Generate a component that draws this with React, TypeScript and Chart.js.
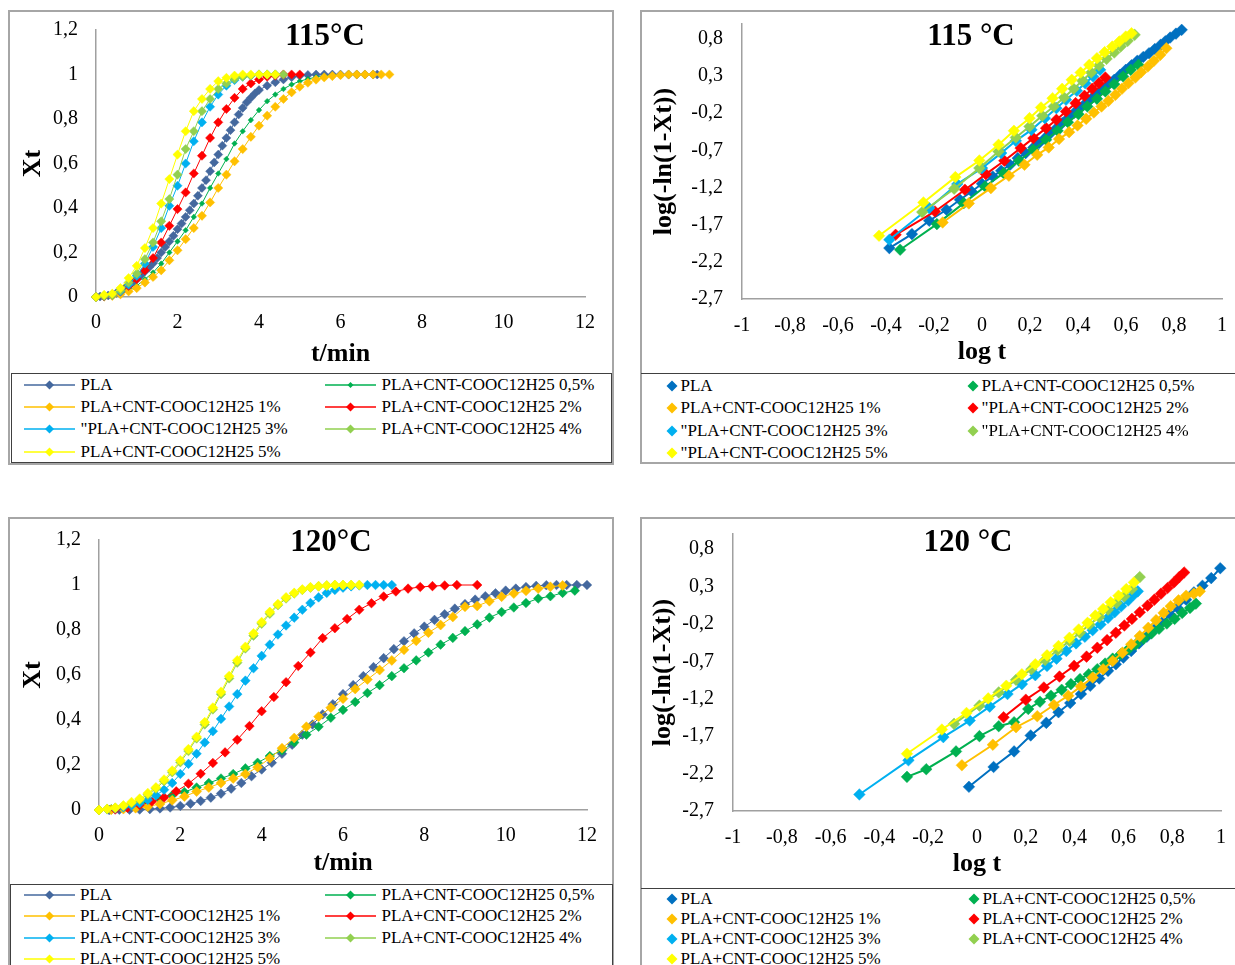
import React, { useEffect, useRef } from "react";
import { Chart, registerables } from "chart.js";
Chart.register(...registerables);

const FONT = "'Liberation Serif', 'Times New Roman', Times, serif";
const AXIS_COLOR = "#A0A0A0";

const LEFT_COLORS = ["#44689E", "#00B050", "#FFC000", "#FF0000", "#00B0F0", "#92D050", "#FFFF00"];
const RIGHT_COLORS = ["#0070C0", "#00B050", "#FFC000", "#FF0000", "#00B0F0", "#92D050", "#FFFF00"];

const LEGEND_115_LEFT = ["PLA", "PLA+CNT-COOC12H25 0,5%", "PLA+CNT-COOC12H25 1%", "PLA+CNT-COOC12H25 2%", "\"PLA+CNT-COOC12H25 3%", "PLA+CNT-COOC12H25 4%", "PLA+CNT-COOC12H25 5%"];
const LEGEND_115_RIGHT = ["PLA", "PLA+CNT-COOC12H25 0,5%", "PLA+CNT-COOC12H25 1%", "\"PLA+CNT-COOC12H25 2%", "\"PLA+CNT-COOC12H25 3%", "\"PLA+CNT-COOC12H25 4%", "\"PLA+CNT-COOC12H25 5%"];
const LEGEND_120 = ["PLA", "PLA+CNT-COOC12H25 0,5%", "PLA+CNT-COOC12H25 1%", "PLA+CNT-COOC12H25 2%", "PLA+CNT-COOC12H25 3%", "PLA+CNT-COOC12H25 4%", "PLA+CNT-COOC12H25 5%"];

const XT_TICKS = [0, 0.2, 0.4, 0.6, 0.8, 1, 1.2];
const TIME_TICKS = [0, 2, 4, 6, 8, 10, 12];
const LOGT_TICKS = [-1, -0.8, -0.6, -0.4, -0.2, 0, 0.2, 0.4, 0.6, 0.8, 1];
const AVRAMI_TICKS = [-2.7, -2.2, -1.7, -1.2, -0.7, -0.2, 0.3, 0.8];

// ---------- 115 °C : Xt vs t ----------
const T115_PLA = [0, 0.1, 0.2, 0.3, 0.4, 0.5, 0.6, 0.7, 0.8, 0.9, 1.0, 1.1, 1.2, 1.3, 1.4, 1.5, 1.6, 1.7, 1.8, 1.9, 2.0, 2.1, 2.2, 2.3, 2.4, 2.5, 2.6, 2.7, 2.8, 2.9, 3.0, 3.1, 3.2, 3.3, 3.4, 3.5, 3.6, 3.7, 3.8, 3.9, 4.0, 4.2, 4.4, 4.6, 4.8, 5.0, 5.2, 5.4, 5.6, 5.8, 6.0, 6.2, 6.4, 6.6, 6.8, 6.9];
const X115_PLA = [0, 0.002, 0.004, 0.007, 0.012, 0.018, 0.027, 0.038, 0.05, 0.065, 0.08, 0.097, 0.115, 0.133, 0.152, 0.175, 0.2, 0.225, 0.25, 0.275, 0.305, 0.33, 0.36, 0.39, 0.42, 0.455, 0.49, 0.525, 0.565, 0.605, 0.64, 0.68, 0.715, 0.75, 0.785, 0.82, 0.85, 0.875, 0.895, 0.915, 0.93, 0.95, 0.965, 0.978, 0.988, 0.994, 0.998, 1, 1, 1, 1, 1, 1, 1, 1, 1];
const T115 = [0, 0.2, 0.4, 0.6, 0.8, 1.0, 1.2, 1.4, 1.6, 1.8, 2.0, 2.2, 2.4, 2.6, 2.8, 3.0, 3.2, 3.4, 3.6, 3.8, 4.0, 4.2, 4.4, 4.6, 4.8, 5.0, 5.2, 5.4, 5.6, 5.8, 6.0, 6.2, 6.4, 6.6, 6.8, 7.0, 7.2];
const X115_05 = [0, 0.003, 0.006, 0.015, 0.03, 0.05, 0.08, 0.11, 0.15, 0.2, 0.25, 0.3, 0.36, 0.42, 0.49, 0.555, 0.62, 0.69, 0.745, 0.795, 0.84, 0.88, 0.91, 0.935, 0.955, 0.97, 0.98, 0.988, 0.993, 0.997, 1, 1, 1, 1, 1];
const X115_1 = [0, 0.002, 0.005, 0.012, 0.025, 0.04, 0.065, 0.09, 0.12, 0.165, 0.21, 0.26, 0.31, 0.365, 0.425, 0.49, 0.55, 0.61, 0.665, 0.72, 0.77, 0.815, 0.855, 0.89, 0.92, 0.945, 0.963, 0.977, 0.987, 0.993, 0.997, 1, 1, 1, 1, 1, 1];
const X115_2 = [0, 0.003, 0.01, 0.025, 0.05, 0.08, 0.12, 0.175, 0.245, 0.32, 0.395, 0.47, 0.555, 0.635, 0.715, 0.785, 0.845, 0.895, 0.935, 0.96, 0.978, 0.99, 0.995, 1, 1, 1];
const X115_3 = [0, 0.005, 0.01, 0.025, 0.055, 0.095, 0.15, 0.225, 0.31, 0.41, 0.5, 0.6, 0.7, 0.785, 0.855, 0.91, 0.95, 0.975, 0.99, 0.995, 1, 1, 1];
const X115_4 = [0, 0.005, 0.01, 0.03, 0.065, 0.105, 0.17, 0.245, 0.34, 0.44, 0.55, 0.665, 0.745, 0.835, 0.89, 0.935, 0.96, 0.98, 0.99, 0.995, 1, 1, 1, 1];
const X115_5 = [0, 0.01, 0.015, 0.04, 0.085, 0.14, 0.22, 0.31, 0.42, 0.53, 0.64, 0.745, 0.835, 0.89, 0.935, 0.97, 0.985, 0.995, 1, 1, 1, 1, 1];

// ---------- 120 °C : Xt vs t ----------
const T120_PLA = [0, 0.25, 0.5, 0.75, 1, 1.25, 1.5, 1.75, 2, 2.25, 2.5, 2.75, 3, 3.25, 3.5, 3.75, 4, 4.25, 4.5, 4.75, 5, 5.25, 5.5, 5.75, 6, 6.25, 6.5, 6.75, 7, 7.25, 7.5, 7.75, 8, 8.25, 8.5, 8.75, 9, 9.25, 9.5, 9.75, 10, 10.25, 10.5, 10.75, 11, 11.25, 11.5, 11.75, 12];
const X120_PLA = [0, 0, 0.001, 0.001, 0.002, 0.004, 0.007, 0.011, 0.018, 0.028, 0.04, 0.055, 0.073, 0.095, 0.12, 0.15, 0.18, 0.21, 0.25, 0.29, 0.335, 0.38, 0.425, 0.47, 0.515, 0.555, 0.595, 0.635, 0.675, 0.715, 0.75, 0.785, 0.815, 0.845, 0.87, 0.895, 0.915, 0.935, 0.95, 0.963, 0.975, 0.984, 0.991, 0.996, 0.999, 1, 1, 1, 1];
const T120_03 = [0, 0.3, 0.6, 0.9, 1.2, 1.5, 1.8, 2.1, 2.4, 2.7, 3.0, 3.3, 3.6, 3.9, 4.2, 4.5, 4.8, 5.1, 5.4, 5.7, 6.0, 6.3, 6.6, 6.9, 7.2, 7.5, 7.8, 8.1, 8.4, 8.7, 9.0, 9.3, 9.6, 9.9, 10.2, 10.5, 10.8, 11.1, 11.4, 11.7];
const X120_05 = [0, 0.003, 0.01, 0.02, 0.032, 0.048, 0.065, 0.08, 0.1, 0.12, 0.14, 0.16, 0.185, 0.21, 0.24, 0.265, 0.3, 0.335, 0.37, 0.41, 0.445, 0.48, 0.52, 0.555, 0.595, 0.63, 0.665, 0.7, 0.735, 0.765, 0.795, 0.825, 0.855, 0.88, 0.9, 0.92, 0.94, 0.95, 0.965, 0.975];
const X120_1 = [0, 0.001, 0.004, 0.008, 0.015, 0.027, 0.043, 0.06, 0.082, 0.1, 0.12, 0.14, 0.16, 0.19, 0.23, 0.275, 0.32, 0.37, 0.415, 0.455, 0.495, 0.538, 0.58, 0.622, 0.665, 0.712, 0.752, 0.788, 0.822, 0.858, 0.903, 0.907, 0.928, 0.948, 0.962, 0.974, 0.984, 0.992, 0.998];
const T120_2 = [0, 0.4, 0.7, 1.0, 1.3, 1.6, 1.9, 2.2, 2.5, 2.8, 3.1, 3.4, 3.7, 4.0, 4.3, 4.6, 4.9, 5.2, 5.5, 5.8, 6.1, 6.4, 6.7, 7.0, 7.3, 7.6, 7.9, 8.2, 8.5, 8.8, 9.3];
const X120_2 = [0, 0.002, 0.01, 0.022, 0.038, 0.056, 0.083, 0.117, 0.161, 0.209, 0.256, 0.312, 0.373, 0.439, 0.502, 0.568, 0.64, 0.7, 0.764, 0.808, 0.849, 0.89, 0.919, 0.949, 0.971, 0.984, 0.991, 0.995, 0.998, 1, 1];
const T120_02 = [0, 0.2, 0.4, 0.6, 0.8, 1.0, 1.2, 1.4, 1.6, 1.8, 2.0, 2.2, 2.4, 2.6, 2.8, 3.0, 3.2, 3.4, 3.6, 3.8, 4.0, 4.2, 4.4, 4.6, 4.8, 5.0, 5.2, 5.4, 5.6, 5.8, 6.0, 6.2, 6.4, 6.6, 6.8, 7.0, 7.2];
const X120_3 = [0, 0.003, 0.007, 0.012, 0.02, 0.03, 0.045, 0.065, 0.09, 0.12, 0.16, 0.205, 0.25, 0.3, 0.35, 0.405, 0.46, 0.515, 0.575, 0.63, 0.685, 0.735, 0.78, 0.82, 0.855, 0.89, 0.92, 0.945, 0.965, 0.978, 0.988, 0.994, 0.998, 1, 1, 1, 1];
const X120_4 = [0, 0.005, 0.01, 0.018, 0.03, 0.045, 0.068, 0.095, 0.128, 0.168, 0.212, 0.262, 0.318, 0.38, 0.447, 0.515, 0.585, 0.655, 0.718, 0.775, 0.828, 0.872, 0.91, 0.94, 0.962, 0.978, 0.988, 0.994, 0.998, 1, 1, 1];
const X120_5 = [0, 0.005, 0.01, 0.02, 0.035, 0.05, 0.075, 0.1, 0.135, 0.175, 0.22, 0.27, 0.325, 0.39, 0.455, 0.525, 0.595, 0.665, 0.725, 0.785, 0.835, 0.88, 0.915, 0.945, 0.965, 0.98, 0.99, 0.995, 0.998, 1, 1, 1, 1];

// ---------- 115 °C : log(-ln(1-Xt)) vs log t ----------
const L115_PLA_X = [-0.386, -0.292, -0.22, -0.148, -0.092, -0.043, 0, 0.045, 0.08, 0.117, 0.149, 0.182, 0.214, 0.238, 0.262, 0.286, 0.31, 0.334, 0.358, 0.382, 0.406, 0.43, 0.455, 0.479, 0.503, 0.527, 0.551, 0.575, 0.599, 0.623, 0.647, 0.672, 0.696, 0.72, 0.744, 0.764, 0.784, 0.808, 0.832];
const L115_PLA_Y = [-2.015, -1.827, -1.647, -1.499, -1.365, -1.253, -1.15, -1.051, -0.975, -0.894, -0.805, -0.737, -0.661, -0.6, -0.536, -0.468, -0.401, -0.334, -0.267, -0.2, -0.132, -0.07, -0.007, 0.06, 0.128, 0.19, 0.249, 0.315, 0.383, 0.445, 0.504, 0.556, 0.607, 0.663, 0.719, 0.768, 0.818, 0.87, 0.921];
const L115_05_X = [-0.341, -0.188, -0.076, 0.013, 0.09, 0.154, 0.214, 0.267, 0.315, 0.358, 0.402, 0.439, 0.479, 0.514, 0.551, 0.588, 0.62, 0.652];
const L115_05_Y = [-2.037, -1.692, -1.41, -1.186, -1.006, -0.84, -0.693, -0.558, -0.437, -0.321, -0.213, -0.11, -0.007, 0.092, 0.19, 0.294, 0.383, 0.45];
const L115_1_X = [-0.164, -0.055, 0.037, 0.112, 0.177, 0.23, 0.278, 0.321, 0.363, 0.398, 0.434, 0.466, 0.498, 0.527, 0.556, 0.583, 0.61, 0.639, 0.663, 0.691, 0.716, 0.743, 0.768];
const L115_1_Y = [-1.67, -1.414, -1.208, -1.042, -0.894, -0.76, -0.661, -0.548, -0.455, -0.365, -0.276, -0.191, -0.11, -0.034, 0.047, 0.128, 0.204, 0.28, 0.352, 0.428, 0.504, 0.585, 0.674];
const L115_2_X = [-0.36, -0.196, -0.071, 0.016, 0.093, 0.161, 0.214, 0.267, 0.31, 0.35, 0.39, 0.427, 0.459, 0.487, 0.514];
const L115_2_Y = [-1.836, -1.522, -1.23, -1.02, -0.84, -0.67, -0.536, -0.401, -0.289, -0.177, -0.065, 0.034, 0.128, 0.204, 0.28];
const L115_3_X = [-0.386, -0.22, -0.103, 0, 0.08, 0.141, 0.206, 0.262, 0.31, 0.35, 0.395, 0.43, 0.463, 0.492];
const L115_3_Y = [-1.903, -1.477, -1.154, -0.939, -0.737, -0.572, -0.424, -0.267, -0.132, -0.02, 0.101, 0.204, 0.293, 0.383];
const L115_4_X = [-0.249, -0.116, -0.011, 0.069, 0.141, 0.198, 0.251, 0.299, 0.342, 0.382, 0.418, 0.455, 0.487, 0.519, 0.551, 0.578, 0.607, 0.636];
const L115_4_Y = [-1.531, -1.217, -0.939, -0.715, -0.527, -0.379, -0.235, -0.11, 0.011, 0.128, 0.235, 0.347, 0.441, 0.531, 0.616, 0.697, 0.773, 0.854];
const L115_5_X = [-0.429, -0.244, -0.111, -0.011, 0.069, 0.133, 0.198, 0.246, 0.294, 0.334, 0.374, 0.411, 0.447, 0.479, 0.511, 0.543, 0.572, 0.599, 0.623];
const L115_5_Y = [-1.849, -1.401, -1.06, -0.836, -0.625, -0.437, -0.267, -0.123, 0.002, 0.128, 0.249, 0.347, 0.45, 0.54, 0.621, 0.697, 0.764, 0.831, 0.876];

// ---------- 120 °C : log(-ln(1-Xt)) vs log t ----------
const L120_PLA_X = [-0.033, 0.068, 0.152, 0.22, 0.284, 0.334, 0.382, 0.426, 0.464, 0.501, 0.537, 0.569, 0.6, 0.632, 0.664, 0.696, 0.727, 0.759, 0.791, 0.822, 0.857, 0.889, 0.924, 0.96, 0.997];
const L120_PLA_Y = [-2.377, -2.112, -1.904, -1.691, -1.523, -1.381, -1.258, -1.138, -1.027, -0.93, -0.828, -0.74, -0.651, -0.563, -0.461, -0.373, -0.275, -0.178, -0.076, 0.012, 0.123, 0.22, 0.309, 0.411, 0.543];
const L120_05_X = [-0.287, -0.208, -0.086, 0.01, 0.089, 0.152, 0.21, 0.258, 0.303, 0.347, 0.385, 0.422, 0.458, 0.493, 0.525, 0.556, 0.588, 0.62, 0.651, 0.683, 0.715, 0.746, 0.778, 0.81, 0.841, 0.873, 0.897];
const L120_05_Y = [-2.244, -2.142, -1.904, -1.7, -1.567, -1.514, -1.337, -1.24, -1.16, -1.081, -1.005, -0.939, -0.873, -0.806, -0.731, -0.665, -0.607, -0.541, -0.474, -0.399, -0.328, -0.266, -0.196, -0.134, -0.054, 0.012, 0.07];
const L120_1_X = [-0.062, 0.065, 0.16, 0.247, 0.315, 0.374, 0.426, 0.474, 0.517, 0.556, 0.596, 0.632, 0.667, 0.702, 0.734, 0.765, 0.794, 0.826, 0.857, 0.889, 0.913];
const L120_1_Y = [-2.089, -1.815, -1.581, -1.434, -1.284, -1.16, -1.036, -0.917, -0.806, -0.696, -0.585, -0.474, -0.364, -0.253, -0.151, -0.054, 0.035, 0.114, 0.176, 0.203, 0.234];
const L120_2_X = [0.109, 0.2, 0.274, 0.338, 0.398, 0.449, 0.493, 0.533, 0.569, 0.604, 0.635, 0.667, 0.699, 0.727, 0.754, 0.781, 0.807, 0.829, 0.849];
const L120_2_Y = [-1.448, -1.213, -1.05, -0.904, -0.762, -0.638, -0.519, -0.417, -0.319, -0.222, -0.134, -0.045, 0.043, 0.123, 0.203, 0.278, 0.353, 0.424, 0.486];
const L120_3_X = [-0.482, -0.281, -0.138, -0.03, 0.052, 0.125, 0.184, 0.239, 0.287, 0.326, 0.366, 0.406, 0.442, 0.474, 0.506, 0.537, 0.564, 0.591, 0.62, 0.643, 0.659];
const L120_3_Y = [-2.479, -2.023, -1.713, -1.492, -1.306, -1.138, -1.005, -0.886, -0.762, -0.665, -0.563, -0.461, -0.373, -0.284, -0.209, -0.12, -0.045, 0.034, 0.114, 0.189, 0.234];
const L120_4_X = [-0.094, 0.01, 0.089, 0.16, 0.223, 0.279, 0.331, 0.379, 0.422, 0.461, 0.501, 0.537, 0.572, 0.604, 0.635, 0.667];
const L120_4_Y = [-1.536, -1.293, -1.116, -0.948, -0.806, -0.682, -0.55, -0.43, -0.319, -0.209, -0.107, -0.01, 0.079, 0.167, 0.265, 0.424];
const L120_5_X = [-0.287, -0.144, -0.043, 0.046, 0.12, 0.184, 0.239, 0.287, 0.334, 0.379, 0.417, 0.453, 0.485, 0.517, 0.548, 0.58, 0.612, 0.643];
const L120_5_Y = [-1.935, -1.612, -1.39, -1.196, -1.027, -0.873, -0.74, -0.62, -0.496, -0.386, -0.275, -0.187, -0.089, -0.001, 0.088, 0.176, 0.265, 0.353];

const fmt = (v: number) => String(Math.round(v * 10) / 10).replace(".", ",");

function pairs(xs: number[], ys: number[]) {
  return ys.map((y, i) => ({ x: xs[i], y }));
}

function makeDatasets(series: { x: number[]; y: number[] }[], colors: string[], radii: number[], lineWidth: number) {
  return series.map((s, i) => ({
    data: pairs(s.x, s.y),
    showLine: true,
    borderColor: colors[i],
    backgroundColor: colors[i],
    borderWidth: lineWidth,
    pointStyle: "rectRot",
    pointRadius: radii[i],
    pointBackgroundColor: colors[i],
    pointBorderColor: colors[i],
    pointBorderWidth: 0.5,
    tension: 0,
    clip: 14,
    order: series.length - i,
  }));
}

type Layout = {
  pad: { top: number; right: number; bottom: number; left: number };
  yAxisWidth: number;
  xAxisHeight: number;
  xTickPad: number;
  yTickPad: number;
  xTitlePad: number;
  yTitlePad: number;
};

function makeConfig(o: {
  datasets: any[];
  xMin: number; xMax: number; yMin: number; yMax: number;
  xTicks: number[]; yTicks: number[];
  xTitle: string; yTitle: string;
  layout: Layout;
}) {
  const L = o.layout;
  return {
    type: "scatter",
    data: { datasets: o.datasets },
    options: {
      responsive: false,
      animation: false,
      devicePixelRatio: 1,
      events: [],
      layout: { padding: L.pad },
      plugins: { legend: { display: false }, tooltip: { enabled: false }, title: { display: false } },
      scales: {
        x: {
          type: "linear",
          min: o.xMin,
          max: o.xMax,
          afterBuildTicks: (s: any) => { s.ticks = o.xTicks.map((v) => ({ value: v })); },
          afterFit: (s: any) => { s.height = L.xAxisHeight; },
          grid: { display: false, drawTicks: false },
          border: { display: true, color: AXIS_COLOR, width: 1.5 },
          ticks: { padding: L.xTickPad, color: "#000", font: { family: FONT, size: 20 }, maxRotation: 0, minRotation: 0, autoSkip: false, callback: (v: any) => fmt(Number(v)) },
          title: { display: true, text: o.xTitle, color: "#000", font: { family: FONT, size: 26, weight: "bold" }, padding: { top: 0, bottom: L.xTitlePad } },
        },
        y: {
          type: "linear",
          min: o.yMin,
          max: o.yMax,
          afterBuildTicks: (s: any) => { s.ticks = o.yTicks.map((v) => ({ value: v })); },
          afterFit: (s: any) => { s.width = L.yAxisWidth; },
          grid: { display: false, drawTicks: false },
          border: { display: true, color: AXIS_COLOR, width: 1.5 },
          ticks: { padding: L.yTickPad, color: "#000", font: { family: FONT, size: 20 }, autoSkip: false, callback: (v: any) => fmt(Number(v)) },
          title: { display: true, text: o.yTitle, color: "#000", font: { family: FONT, size: 26, weight: "bold" }, padding: { top: L.yTitlePad, bottom: 0 } },
        },
      },
    },
  };
}

function ChartCanvas(props: { rect: number[]; config: any }) {
  const ref = useRef<HTMLCanvasElement | null>(null);
  useEffect(() => {
    const chart = new Chart(ref.current as HTMLCanvasElement, props.config);
    return () => chart.destroy();
  }, []);
  const [l, t, w, h] = props.rect;
  return <canvas ref={ref} width={w} height={h} style={{ position: "absolute", left: l, top: t, width: w, height: h }} />;
}

function Title(props: { text: string; cx: number; cy: number }) {
  return (
    <div style={{ position: "absolute", left: props.cx, top: props.cy, transform: "translate(-50%, -50%)", fontFamily: FONT, fontWeight: "bold", fontSize: 31, lineHeight: "32px", whiteSpace: "nowrap", color: "#000" }}>
      {props.text}
    </div>
  );
}

function LineLegend(props: { labels: string[]; colors: string[]; radii: number[]; col1: number; col2: number; rows: number[] }) {
  return (
    <>
      {props.labels.map((lab, i) => {
        const x = i % 2 === 0 ? props.col1 : props.col2;
        const cy = props.rows[Math.floor(i / 2)];
        const r = props.radii[i];
        return (
          <React.Fragment key={i}>
            <svg width={52} height={14} style={{ position: "absolute", left: x, top: cy - 7 }}>
              <line x1={0} y1={7} x2={51} y2={7} stroke={props.colors[i]} strokeWidth={1.5} />
              <polygon points={`25.5,${7 - r} ${25.5 + r},7 25.5,${7 + r} ${25.5 - r},7`} fill={props.colors[i]} />
            </svg>
            <div style={{ position: "absolute", left: x + 56.5, top: cy - 11, height: 22, lineHeight: "22px", fontSize: 17, fontFamily: FONT, whiteSpace: "nowrap", color: "#000" }}>{lab}</div>
          </React.Fragment>
        );
      })}
    </>
  );
}

function MarkerLegend(props: { labels: string[]; colors: string[]; col1: number; col2: number; rows: number[] }) {
  return (
    <>
      {props.labels.map((lab, i) => {
        const x = i % 2 === 0 ? props.col1 : props.col2;
        const cy = props.rows[Math.floor(i / 2)];
        const r = 5.5;
        return (
          <React.Fragment key={i}>
            <svg width={14} height={14} style={{ position: "absolute", left: x - 7, top: cy - 7 }}>
              <polygon points={`7,${7 - r} ${7 + r},7 7,${7 + r} ${7 - r},7`} fill={props.colors[i]} />
            </svg>
            <div style={{ position: "absolute", left: x + 8.5, top: cy - 11, height: 22, lineHeight: "22px", fontSize: 17, fontFamily: FONT, whiteSpace: "nowrap", color: "#000" }}>{lab}</div>
          </React.Fragment>
        );
      })}
    </>
  );
}

const frame = (l: number, t: number, w: number, h: number): React.CSSProperties => ({ position: "absolute", left: l, top: t, width: w, height: h, border: "2px solid #A6A6A6", boxSizing: "border-box" });

export default function App() {
  const leftRadii115 = [4.5, 2.8, 4.6, 4.6, 4.6, 4.6, 4.6];
  const leftRadii120 = [4.8, 4.8, 5, 4.8, 4.8, 4.8, 5];
  const rightRadii = [5.8, 5.8, 5.8, 5.8, 5.8, 5.8, 5.8];

  const ds115L = makeDatasets([
    { x: T115_PLA, y: X115_PLA },
    { x: T115, y: X115_05 },
    { x: T115, y: X115_1 },
    { x: T115, y: X115_2 },
    { x: T115, y: X115_3 },
    { x: T115, y: X115_4 },
    { x: T115, y: X115_5 },
  ], LEFT_COLORS, leftRadii115, 1);

  const ds120L = makeDatasets([
    { x: T120_PLA, y: X120_PLA },
    { x: T120_03, y: X120_05 },
    { x: T120_03, y: X120_1 },
    { x: T120_2, y: X120_2 },
    { x: T120_02, y: X120_3 },
    { x: T120_02, y: X120_4 },
    { x: T120_02, y: X120_5 },
  ], LEFT_COLORS, leftRadii120, 1);

  const ds115R = makeDatasets([
    { x: L115_PLA_X, y: L115_PLA_Y },
    { x: L115_05_X, y: L115_05_Y },
    { x: L115_1_X, y: L115_1_Y },
    { x: L115_2_X, y: L115_2_Y },
    { x: L115_3_X, y: L115_3_Y },
    { x: L115_4_X, y: L115_4_Y },
    { x: L115_5_X, y: L115_5_Y },
  ], RIGHT_COLORS, rightRadii, 2);

  const ds120R = makeDatasets([
    { x: L120_PLA_X, y: L120_PLA_Y },
    { x: L120_05_X, y: L120_05_Y },
    { x: L120_1_X, y: L120_1_Y },
    { x: L120_2_X, y: L120_2_Y },
    { x: L120_3_X, y: L120_3_Y },
    { x: L120_4_X, y: L120_4_Y },
    { x: L120_5_X, y: L120_5_Y },
  ], RIGHT_COLORS, rightRadii, 2);

  const cfg1 = makeConfig({
    datasets: ds115L, xMin: 0, xMax: 12, yMin: 0, yMax: 1.2, xTicks: TIME_TICKS, yTicks: XT_TICKS, xTitle: "t/min", yTitle: "Xt",
    layout: { pad: { top: 0, right: 27, bottom: 0, left: 0 }, yAxisWidth: 86, xAxisHeight: 75, xTickPad: 14, yTickPad: 18, xTitlePad: 2, yTitlePad: 8 },
  });
  const cfg2 = makeConfig({
    datasets: ds115R, xMin: -1, xMax: 1, yMin: -2.7, yMax: 1, xTicks: LOGT_TICKS, yTicks: AVRAMI_TICKS, xTitle: "log t", yTitle: "log(-ln(1-Xt))",
    layout: { pad: { top: 0, right: 23, bottom: 0, left: 0 }, yAxisWidth: 100, xAxisHeight: 74, xTickPad: 15, yTickPad: 19, xTitlePad: 5, yTitlePad: 7 },
  });
  const cfg3 = makeConfig({
    datasets: ds120L, xMin: 0, xMax: 12, yMin: 0, yMax: 1.2, xTicks: TIME_TICKS, yTicks: XT_TICKS, xTitle: "t/min", yTitle: "Xt",
    layout: { pad: { top: 0, right: 25, bottom: 0, left: 0 }, yAxisWidth: 89, xAxisHeight: 72, xTickPad: 14, yTickPad: 18, xTitlePad: 3, yTitlePad: 8 },
  });
  const cfg4 = makeConfig({
    datasets: ds120R, xMin: -1, xMax: 1, yMin: -2.7, yMax: 1, xTicks: LOGT_TICKS, yTicks: AVRAMI_TICKS, xTitle: "log t", yTitle: "log(-ln(1-Xt))",
    layout: { pad: { top: 0, right: 24, bottom: 0, left: 0 }, yAxisWidth: 91, xAxisHeight: 75, xTickPad: 15, yTickPad: 19, xTitlePad: 6, yTitlePad: 6 },
  });

  return (
    <div style={{ position: "fixed", left: 0, top: 0, width: 1235, height: 965, overflow: "hidden", background: "#fff" }}>
      <div style={frame(8, 10, 606, 455)} />
      <div style={frame(640, 10, 620, 454)} />
      <div style={frame(8, 517, 606, 470)} />
      <div style={frame(640, 517, 620, 470)} />

      <ChartCanvas rect={[10, 0, 602, 372]} config={cfg1} />
      <ChartCanvas rect={[642, -7, 603, 380]} config={cfg2} />
      <ChartCanvas rect={[10, 510, 602, 372]} config={cfg3} />
      <ChartCanvas rect={[642, 503, 603, 383]} config={cfg4} />

      <Title text="115°C" cx={325} cy={35} />
      <Title text="115 °C" cx={971} cy={35} />
      <Title text="120°C" cx={331} cy={541} />
      <Title text="120 °C" cx={968} cy={541} />

      <div style={{ position: "absolute", left: 11, top: 373, width: 601, height: 90, border: "1px solid #404040", boxSizing: "border-box" }} />
      <div style={{ position: "absolute", left: 641, top: 373, width: 600, height: 1, background: "#404040" }} />
      <div style={{ position: "absolute", left: 10, top: 884, width: 603, height: 100, border: "1px solid #404040", boxSizing: "border-box" }} />
      <div style={{ position: "absolute", left: 641, top: 888, width: 600, height: 1, background: "#404040" }} />

      <LineLegend labels={LEGEND_115_LEFT} colors={LEFT_COLORS} radii={[4.5, 3, 4.5, 4.5, 4.5, 4.5, 4.5]} col1={24} col2={325} rows={[385, 407, 429, 451.5]} />
      <MarkerLegend labels={LEGEND_115_RIGHT} colors={RIGHT_COLORS} col1={672} col2={973} rows={[385.5, 408, 430.5, 453]} />
      <LineLegend labels={LEGEND_120} colors={LEFT_COLORS} radii={[4.5, 4.5, 4.5, 4.5, 4.5, 4.5, 4.5]} col1={23.5} col2={325} rows={[894.5, 916, 937.5, 959]} />
      <MarkerLegend labels={LEGEND_120} colors={RIGHT_COLORS} col1={672} col2={974} rows={[899, 919, 939, 959]} />
    </div>
  );
}
